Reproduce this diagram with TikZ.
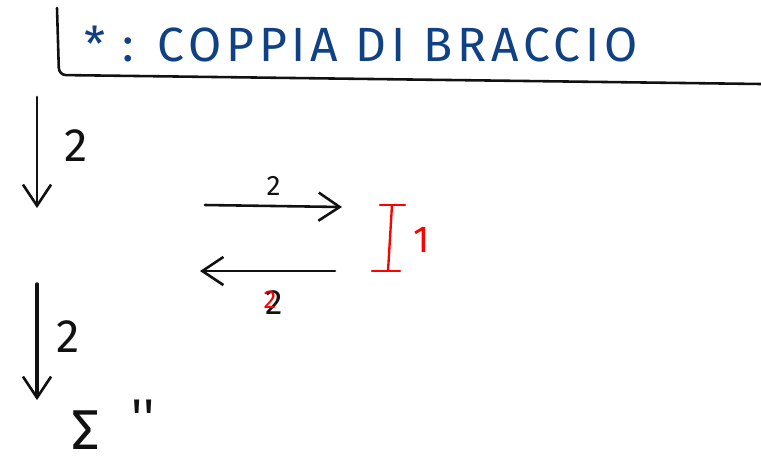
\documentclass[tikz,border=0pt]{standalone}
\usepackage{fontspec}
\setmainfont{Fira Sans}
\usetikzlibrary{arrows.meta, positioning, calc}
\definecolor{pblue}{HTML}{0F4184}
\definecolor{pred}{HTML}{FF0000}
\definecolor{pink}{HTML}{111111}

\begin{document}
\begin{tikzpicture}[x=0.03cm, y=-0.03cm]

\tikzstyle{stroke} = [pink, line width=2.2pt, line cap=round, line join=round]
\tikzstyle{arrow} = [stroke, -{Straight Barb[length=18pt, width=24pt, line width=2.2pt]}]
\tikzstyle{label} = [text=pink, inner sep=0pt]
\tikzstyle{redlabel} = [text=pred, inner sep=0pt]

\useasboundingbox (0,0) rectangle (761,464);

% Header box
\coordinate (boxtop) at (57,8);
\coordinate (boxcorner) at (59,75);
\coordinate (boxend) at (761,84);
\draw[stroke, rounded corners=6pt] (boxtop) -- (boxcorner) -- (boxend);
\node[text=pblue, anchor=west, font=\fontsize{41}{44}\selectfont\addfontfeature{LetterSpace=10}] (titolo) at (80,44) {* : COPPIA DI BRACCIO};

% Left column
\coordinate (a1) at (37,97);
\coordinate (b1) at (37,208);
\draw[arrow] (a1) -- (b1);
\node[label, font=\fontsize{40}{44}\selectfont] (due1) at (76,146) {2};

\coordinate (a2) at (37,284);
\coordinate (b2) at (37,400);
\draw[arrow, line width=3pt] (a2) -- (b2);
\node[label, font=\fontsize{40}{44}\selectfont] (due2) at (68,337) {2};

\node[label, font=\fontsize{48}{52}\selectfont] (somma) at (86,430) {Σ};
\node[label, font=\fontsize{44}{48}\selectfont\addfontfeature{Ligatures=TeXOff}] (ditto) at (143,418) {''};

% Arrows between
\coordinate (r1) at (205,205);
\coordinate (r2) at (342,207);
\draw[arrow] (r1) -- node[label, above=8pt, font=\fontsize{24}{26}\selectfont] (dueA) {2} (r2);

\coordinate (l1) at (335,271);
\coordinate (l2) at (200,271);
\draw[arrow] (l1) -- (l2);
\node[label, font=\fontsize{30}{32}\selectfont] (dueB) at (274,303) {2};
\node[redlabel, font=\fontsize{22}{24}\selectfont] (dueR) at (270,300) {2};

% Red height
\coordinate (h1) at (392,205);
\coordinate (h2) at (388,271);
\draw[pred, line width=2pt, line cap=round] (h1) -- (h2);
\draw[pred, line width=2pt, line cap=round] ($(h1)+(-12,0)$) -- ($(h1)+(13,0)$);
\draw[pred, line width=2pt, line cap=round] ($(h2)+(-16,0)$) -- ($(h2)+(12,0)$);
\node[redlabel, font=\fontsize{32}{34}\selectfont] (uno) at (422,240) {1};

\end{tikzpicture}
\end{document}
